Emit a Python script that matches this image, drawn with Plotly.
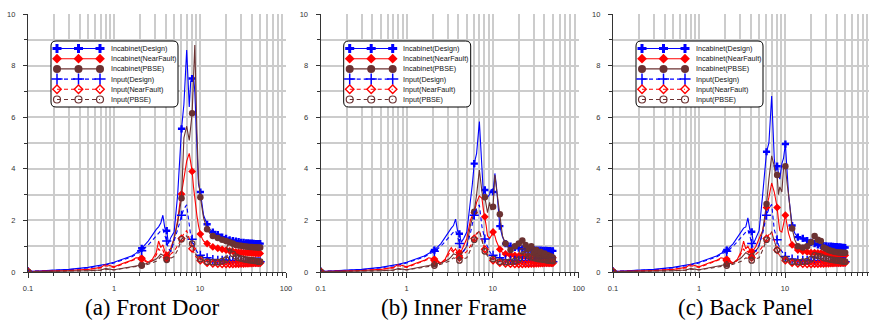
import plotly.graph_objects as go

# ---------------- data ----------------
freq = [0.1, 0.2, 0.3, 0.5, 0.7, 0.8, 1.0, 1.3, 1.6, 1.8,
        2.1, 2.5, 2.8, 3.1, 3.3, 3.5, 3.7, 3.9, 4.1, 4.3,
        4.6, 5.0, 5.5, 5.8, 6.1, 6.5, 7.0, 7.5, 7.8, 8.1,
        8.4, 8.7, 9.2, 9.6, 10.1, 10.6, 11.0, 12.1, 13.0, 14.1,
        16.1, 18.1, 20.1, 22.1, 24.1, 26.1, 28.1, 30.1, 32.1, 34.1,
        36.1, 38.1, 40.1, 42.1, 44.1, 46.1, 48.1, 50.1]

series_names = ["Incabinet(Design)", "Incabinet(NearFault)", "Incabinet(PBSE)",
                "Input(Design)", "Input(NearFault)", "Input(PBSE)"]
panel_titles = ["(a) Front Door", "(b) Inner Frame", "(c) Back Panel"]
x_tick_vals = [0.1, 1, 10, 100]
x_tick_text = ["0.1", "1", "10", "100"]

# (a) Front Door
front_incab_design = [0.02, 0.06, 0.10, 0.18, 0.25, 0.30, 0.38, 0.50, 0.62, 0.72,
                      0.92, 1.20, 1.45, 1.65, 1.75, 1.90, 2.20, 1.70, 1.60, 1.10,
                      1.35, 1.55, 3.00, 4.50, 5.55, 6.50, 8.60, 6.40, 7.40, 7.50,
                      7.60, 7.00, 4.50, 3.40, 3.10, 2.60, 2.20, 1.85, 1.65, 1.55,
                      1.45, 1.35, 1.30, 1.25, 1.22, 1.20, 1.18, 1.15, 1.15, 1.13,
                      1.13, 1.12, 1.12, 1.11, 1.10, 1.10, 1.10, 1.10]
front_incab_nearfault = [0.02, 0.04, 0.06, 0.10, 0.18, 0.30, 0.20, 0.35, 0.45, 0.55,
                         0.54, 0.38, 0.50, 0.75, 1.20, 0.95, 1.05, 0.80, 0.65, 0.75,
                         0.95, 1.30, 2.00, 2.60, 3.02, 3.60, 4.30, 4.60, 4.20, 3.90,
                         3.30, 2.80, 2.20, 1.80, 1.47, 1.30, 1.20, 1.10, 1.02, 0.97,
                         0.92, 0.88, 0.85, 0.82, 0.80, 0.78, 0.77, 0.76, 0.75, 0.75,
                         0.74, 0.74, 0.73, 0.73, 0.72, 0.72, 0.72, 0.72]
front_incab_pbse = [0.01, 0.02, 0.03, 0.05, 0.08, 0.13, 0.09, 0.15, 0.20, 0.25,
                    0.27, 0.35, 0.42, 0.50, 0.60, 0.70, 0.65, 0.55, 0.50, 0.65,
                    0.85, 1.30, 1.90, 2.40, 2.86, 5.20, 5.65, 5.10, 5.80, 6.15,
                    7.50, 8.80, 5.50, 3.60, 2.90, 2.40, 2.10, 1.66, 1.50, 1.40,
                    1.32, 1.25, 1.20, 1.15, 1.10, 1.05, 1.03, 1.02, 1.00, 0.99,
                    0.98, 0.97, 0.97, 0.96, 0.96, 0.95, 0.95, 0.95]
front_input_design = [0.02, 0.05, 0.09, 0.16, 0.23, 0.27, 0.35, 0.47, 0.58, 0.68,
                      0.82, 1.05, 1.25, 1.40, 1.50, 1.60, 1.65, 1.45, 1.20, 0.90,
                      0.80, 1.20, 1.60, 1.90, 2.20, 2.45, 2.60, 1.70, 1.40, 1.27,
                      1.10, 0.95, 0.80, 0.70, 0.65, 0.60, 0.58, 0.55, 0.50, 0.48,
                      0.45, 0.45, 0.46, 0.45, 0.44, 0.43, 0.42, 0.42, 0.41, 0.41,
                      0.40, 0.40, 0.40, 0.40, 0.40, 0.40, 0.40, 0.40]
front_input_nearfault = [0.02, 0.04, 0.06, 0.10, 0.16, 0.24, 0.18, 0.32, 0.42, 0.50,
                         0.50, 0.35, 0.45, 0.65, 0.90, 0.80, 0.85, 0.65, 0.55, 0.60,
                         0.70, 0.80, 1.00, 1.15, 1.30, 1.50, 1.60, 1.30, 1.05, 0.90,
                         0.75, 0.65, 0.55, 0.50, 0.45, 0.40, 0.38, 0.35, 0.33, 0.32,
                         0.31, 0.30, 0.30, 0.30, 0.30, 0.31, 0.31, 0.32, 0.32, 0.33,
                         0.33, 0.34, 0.34, 0.35, 0.35, 0.35, 0.35, 0.35]
front_input_pbse = [0.01, 0.02, 0.03, 0.05, 0.07, 0.11, 0.08, 0.13, 0.18, 0.22,
                    0.25, 0.30, 0.36, 0.42, 0.50, 0.60, 0.55, 0.50, 0.47, 0.50,
                    0.55, 0.60, 0.85, 1.05, 1.27, 1.35, 1.40, 1.25, 1.15, 1.10,
                    0.90, 0.75, 0.62, 0.55, 0.50, 0.46, 0.43, 0.40, 0.39, 0.38,
                    0.38, 0.42, 0.48, 0.95, 0.70, 0.60, 0.55, 0.52, 0.50, 0.48,
                    0.47, 0.46, 0.45, 0.44, 0.43, 0.42, 0.40, 0.40]

# (b) Inner Frame
inner_incab_design = [0.02, 0.06, 0.10, 0.18, 0.25, 0.30, 0.38, 0.50, 0.62, 0.72,
                      0.85, 1.10, 1.35, 1.60, 1.70, 1.80, 2.05, 1.60, 1.48, 1.15,
                      1.30, 1.55, 2.60, 3.40, 4.20, 4.60, 5.83, 3.90, 3.00, 3.18,
                      2.95, 2.90, 3.00, 3.20, 3.10, 3.82, 3.40, 1.78, 1.35, 1.10,
                      1.00, 0.95, 0.92, 0.90, 0.88, 0.87, 0.86, 0.86, 0.85, 0.85,
                      0.85, 0.84, 0.84, 0.84, 0.83, 0.83, 0.82, 0.82]
inner_incab_nearfault = [0.02, 0.04, 0.06, 0.10, 0.18, 0.30, 0.20, 0.35, 0.45, 0.55,
                         0.50, 0.35, 0.50, 0.80, 0.95, 0.80, 0.90, 0.75, 0.75, 0.80,
                         1.00, 1.30, 2.00, 2.20, 2.30, 2.70, 2.95, 2.85, 2.40, 2.14,
                         1.80, 1.40, 1.30, 1.40, 1.55, 1.40, 1.20, 0.88, 0.75, 0.70,
                         0.66, 0.64, 0.62, 0.60, 0.60, 0.59, 0.58, 0.58, 0.58, 0.57,
                         0.57, 0.57, 0.56, 0.56, 0.56, 0.55, 0.55, 0.55]
inner_incab_pbse = [0.01, 0.02, 0.03, 0.05, 0.08, 0.13, 0.09, 0.15, 0.20, 0.25,
                    0.30, 0.35, 0.42, 0.50, 0.60, 0.70, 0.68, 0.62, 0.60, 0.70,
                    0.85, 1.00, 1.80, 2.10, 2.34, 3.00, 3.95, 3.10, 2.80, 2.90,
                    2.60, 2.30, 2.70, 2.40, 2.53, 3.76, 3.30, 2.24, 1.40, 1.10,
                    0.85, 1.00, 1.10, 1.22, 1.05, 0.90, 1.00, 0.75, 0.85, 0.60,
                    0.78, 0.55, 0.72, 0.58, 0.65, 0.55, 0.60, 0.55]
inner_input_design = [0.02, 0.05, 0.09, 0.16, 0.23, 0.27, 0.35, 0.47, 0.58, 0.68,
                      0.80, 1.00, 1.20, 1.35, 1.45, 1.55, 1.60, 1.40, 1.10, 0.90,
                      0.80, 1.00, 1.50, 1.85, 2.20, 2.45, 2.60, 1.75, 1.45, 1.28,
                      1.10, 0.95, 0.80, 0.70, 0.65, 0.60, 0.58, 0.55, 0.50, 0.47,
                      0.45, 0.45, 0.45, 0.44, 0.43, 0.42, 0.42, 0.41, 0.41, 0.40,
                      0.40, 0.40, 0.40, 0.40, 0.40, 0.40, 0.40, 0.40]
inner_input_nearfault = [0.02, 0.04, 0.06, 0.10, 0.16, 0.24, 0.18, 0.32, 0.42, 0.50,
                         0.45, 0.33, 0.45, 0.70, 0.85, 0.75, 0.80, 0.65, 0.55, 0.60,
                         0.70, 0.80, 1.00, 1.15, 1.30, 1.50, 1.60, 1.25, 1.00, 0.88,
                         0.75, 0.65, 0.55, 0.50, 0.45, 0.40, 0.38, 0.35, 0.33, 0.32,
                         0.31, 0.30, 0.30, 0.30, 0.31, 0.31, 0.32, 0.32, 0.33, 0.33,
                         0.34, 0.34, 0.35, 0.35, 0.35, 0.35, 0.35, 0.35]
inner_input_pbse = [0.01, 0.02, 0.03, 0.05, 0.07, 0.11, 0.08, 0.13, 0.18, 0.22,
                    0.25, 0.30, 0.36, 0.42, 0.48, 0.55, 0.52, 0.48, 0.45, 0.48,
                    0.52, 0.55, 0.85, 1.05, 1.25, 1.45, 1.60, 1.20, 0.95, 0.80,
                    0.70, 0.62, 0.55, 0.52, 0.50, 0.46, 0.43, 0.40, 0.39, 0.38,
                    0.40, 0.42, 0.48, 0.80, 0.70, 0.62, 0.58, 0.55, 0.52, 0.50,
                    0.50, 0.48, 0.48, 0.46, 0.45, 0.44, 0.44, 0.43]

# (c) Back Panel
back_incab_design = [0.02, 0.06, 0.10, 0.18, 0.25, 0.30, 0.38, 0.50, 0.62, 0.72,
                     0.85, 1.10, 1.35, 1.55, 1.70, 1.75, 2.10, 1.65, 1.56, 1.10,
                     1.35, 1.60, 3.00, 3.90, 4.66, 5.00, 6.82, 4.40, 3.90, 4.10,
                     3.80, 3.60, 4.20, 4.40, 4.96, 3.80, 3.00, 1.80, 1.50, 1.35,
                     1.30, 1.22, 1.15, 1.10, 1.05, 1.03, 1.02, 1.01, 1.00, 1.00,
                     0.99, 0.98, 0.98, 0.97, 0.97, 0.96, 0.96, 0.95]
back_incab_nearfault = [0.02, 0.04, 0.06, 0.10, 0.18, 0.30, 0.20, 0.35, 0.45, 0.55,
                        0.50, 0.35, 0.50, 0.80, 1.20, 0.90, 1.00, 0.85, 0.80, 0.85,
                        1.00, 1.30, 1.60, 2.00, 2.50, 2.90, 3.45, 3.10, 2.80, 2.50,
                        2.00, 1.60, 1.55, 1.90, 2.20, 1.80, 1.50, 1.05, 0.92, 0.85,
                        0.80, 0.78, 0.75, 0.75, 0.74, 0.73, 0.72, 0.71, 0.70, 0.70,
                        0.69, 0.68, 0.68, 0.67, 0.67, 0.66, 0.66, 0.65]
back_incab_pbse = [0.01, 0.02, 0.03, 0.05, 0.08, 0.13, 0.09, 0.15, 0.20, 0.25,
                   0.30, 0.35, 0.45, 0.55, 0.65, 0.75, 0.70, 0.65, 0.60, 0.70,
                   0.85, 1.00, 1.60, 2.10, 2.64, 3.60, 4.50, 4.10, 3.70, 3.76,
                   3.00, 3.30, 3.10, 4.00, 4.10, 3.40, 3.00, 1.69, 1.25, 1.00,
                   0.95, 1.00, 1.15, 1.40, 1.25, 1.20, 0.95, 0.90, 0.85, 0.82,
                   0.80, 0.78, 0.77, 0.76, 0.76, 0.75, 0.75, 0.75]
back_input_design = [0.02, 0.05, 0.09, 0.16, 0.23, 0.27, 0.35, 0.47, 0.58, 0.68,
                     0.80, 1.00, 1.20, 1.35, 1.45, 1.55, 1.62, 1.40, 1.10, 0.90,
                     0.80, 1.05, 1.50, 1.85, 2.20, 2.45, 2.62, 1.65, 1.40, 1.25,
                     1.05, 0.92, 0.78, 0.68, 0.60, 0.56, 0.54, 0.50, 0.48, 0.46,
                     0.45, 0.45, 0.45, 0.44, 0.43, 0.42, 0.42, 0.41, 0.41, 0.40,
                     0.40, 0.40, 0.40, 0.40, 0.40, 0.40, 0.40, 0.40]
back_input_nearfault = [0.02, 0.04, 0.06, 0.10, 0.16, 0.24, 0.18, 0.32, 0.42, 0.50,
                        0.45, 0.33, 0.45, 0.70, 0.90, 0.75, 0.80, 0.65, 0.55, 0.60,
                        0.70, 0.80, 1.00, 1.15, 1.30, 1.45, 1.55, 1.20, 0.98, 0.85,
                        0.72, 0.62, 0.55, 0.50, 0.45, 0.40, 0.38, 0.35, 0.33, 0.32,
                        0.31, 0.30, 0.30, 0.31, 0.31, 0.32, 0.32, 0.33, 0.33, 0.34,
                        0.34, 0.35, 0.35, 0.35, 0.35, 0.36, 0.36, 0.36]
back_input_pbse = [0.01, 0.02, 0.03, 0.05, 0.07, 0.11, 0.08, 0.13, 0.18, 0.22,
                   0.25, 0.30, 0.36, 0.42, 0.48, 0.55, 0.52, 0.48, 0.45, 0.48,
                   0.52, 0.55, 0.85, 1.05, 1.25, 1.40, 1.55, 1.20, 1.00, 0.85,
                   0.72, 0.62, 0.55, 0.52, 0.50, 0.46, 0.43, 0.40, 0.39, 0.38,
                   0.40, 0.42, 0.50, 0.65, 0.62, 0.60, 0.55, 0.52, 0.50, 0.48,
                   0.47, 0.46, 0.45, 0.44, 0.43, 0.42, 0.41, 0.40]

panels = [
    [front_incab_design, front_incab_nearfault, front_incab_pbse,
     front_input_design, front_input_nearfault, front_input_pbse],
    [inner_incab_design, inner_incab_nearfault, inner_incab_pbse,
     inner_input_design, inner_input_nearfault, inner_input_pbse],
    [back_incab_design, back_incab_nearfault, back_incab_pbse,
     back_input_design, back_input_nearfault, back_input_pbse],
]

# ---------------- styles / layout ----------------
W, H = 869, 321
BLUE, RED, BROWN = "#0000ff", "#ff0000", "#6b3232"
DASH = "4px,3px"
styles = [
    dict(color=BLUE, dash="solid", symbol="cross", size=6, mlw=0),
    dict(color=RED, dash="solid", symbol="diamond", size=6, mlw=0),
    dict(color=BROWN, dash="solid", symbol="circle", size=6.5, mlw=0),
    dict(color=BLUE, dash=DASH, symbol="cross-thin-open", size=6.5, mlw=1.5),
    dict(color=RED, dash=DASH, symbol="diamond-open", size=5, mlw=1.4),
    dict(color=BROWN, dash=DASH, symbol="circle-open", size=5.5, mlw=1.2),
]

axis_left = [28, 320.7, 613]
axis_right = [286, 578.7, 869]
decade_px = 86.0
y_bottom_px, y_top_px = 272, 14
caption_cx = [151.5, 454, 745]
caption_cy = 307.5

GRID = "#cccccc"
AX = "#333333"
TICKFONT = dict(family="Liberation Sans, Arial, sans-serif", size=7.5, color=AX)

minor_x = [m * 10.0 ** e for e in (-1, 0, 1) for m in range(2, 10)]
is_marker = [abs((f - 0.1) / 2 - round((f - 0.1) / 2)) < 1e-9 for f in freq]
mfreq = [f for f, m in zip(freq, is_marker) if m]

fig = go.Figure()

for p in range(3):
    xa = "x" if p == 0 else f"x{p + 1}"
    ya = "y" if p == 0 else f"y{p + 1}"
    for s, vals in enumerate(panels[p]):
        st = styles[s]
        fig.add_trace(go.Scatter(
            x=freq, y=vals, mode="lines", xaxis=xa, yaxis=ya, showlegend=False,
            line=dict(color=st["color"], width=1.1, dash=st["dash"]),
            name=series_names[s], hoverinfo="skip"))
        fig.add_trace(go.Scatter(
            x=mfreq, y=[v for v, m in zip(vals, is_marker) if m], mode="markers",
            xaxis=xa, yaxis=ya, showlegend=False, name=series_names[s],
            marker=dict(symbol=st["symbol"], size=st["size"], color=st["color"],
                        line=dict(color=st["color"], width=st["mlw"]))))

    L, R = axis_left[p], axis_right[p]
    xr_max = (R - L) / decade_px - 1
    xkey = "xaxis" if p == 0 else f"xaxis{p + 1}"
    ykey = "yaxis" if p == 0 else f"yaxis{p + 1}"
    fig.update_layout(**{
        xkey: dict(
            type="log", range=[-1, xr_max], domain=[L / W, R / W], anchor=ya,
            automargin=False,
            showline=True, linecolor=AX, linewidth=1.3, mirror=False,
            ticks="outside", ticklen=5, tickwidth=1, tickcolor=AX,
            tickvals=x_tick_vals, ticktext=x_tick_text, tickfont=TICKFONT,
            ticklabelstandoff=4,
            showgrid=True, gridcolor=GRID, gridwidth=1.5, zeroline=False,
            minor=dict(tickvals=minor_x, ticks="outside", ticklen=3, tickcolor=AX,
                       showgrid=True, gridcolor=GRID, gridwidth=1.5),
        ),
        ykey: dict(
            range=[0, 10], domain=[(H - y_bottom_px) / H, (H - y_top_px) / H], anchor=xa,
            automargin=False,
            showline=True, linecolor=AX, linewidth=1.3,
            ticks="outside", ticklen=4, tickwidth=1, tickcolor=AX,
            tick0=0, dtick=2, tickfont=TICKFONT, ticklabelstandoff=6,
            showgrid=True, gridcolor=GRID, gridwidth=1.5, zeroline=False,
            minor=dict(dtick=1, ticks="outside", ticklen=3, tickcolor=AX,
                       showgrid=True, gridcolor=GRID, gridwidth=1.5),
        ),
    })

    # ---- custom legend (hidden helper axes, pixel units) ----
    lx = f"x{p + 4}"
    ly = f"y{p + 4}"
    pad = 2
    bx0, bx1 = L + 23, L + 150
    by0, by1 = 41, 107
    bw, bh = bx1 - bx0, by1 - by0
    fig.update_layout(**{
        f"xaxis{p + 4}": dict(domain=[(bx0 - pad) / W, (bx1 + pad) / W],
                              range=[-pad, bw + pad], visible=False, anchor=ly,
                              fixedrange=True, automargin=False),
        f"yaxis{p + 4}": dict(domain=[(H - by1 - pad) / H, (H - by0 + pad) / H],
                              range=[bh + pad, -pad], visible=False, anchor=lx,
                              fixedrange=True, automargin=False),
    })
    r = 5
    path = (f"M {r},0 H {bw - r} Q {bw},0 {bw},{r} V {bh - r} Q {bw},{bh} {bw - r},{bh} "
            f"H {r} Q 0,{bh} 0,{bh - r} V {r} Q 0,0 {r},0 Z")
    fig.add_shape(type="path", path=path, xref=lx, yref=ly, layer="below",
                  fillcolor="white", line=dict(color="black", width=1))
    for s in range(6):
        st = styles[s]
        ry = 7.5 + 10.2 * s
        fig.add_trace(go.Scatter(
            x=[6, 27.5, 49], y=[ry] * 3, mode="lines+markers", xaxis=lx, yaxis=ly,
            showlegend=False, hoverinfo="skip",
            line=dict(color=st["color"], width=1.1, dash=st["dash"]),
            marker=dict(symbol=st["symbol"], size=st["size"] + 1.5, color=st["color"],
                        line=dict(color=st["color"], width=st["mlw"]))))
        fig.add_annotation(x=57.5, y=ry, xref=lx, yref=ly, text=series_names[s],
                           showarrow=False, xanchor="left", yanchor="middle",
                           font=dict(family="Liberation Sans, Arial, sans-serif",
                                     size=7.2, color="#111"))

    fig.add_annotation(x=caption_cx[p] / W, y=(H - caption_cy) / H, xref="paper", yref="paper",
                       text=panel_titles[p], showarrow=False, xanchor="center",
                       yanchor="middle",
                       font=dict(family="Liberation Serif, Times New Roman, serif",
                                 size=23, color="black"))

fig.update_layout(width=W, height=H, autosize=False,
                  margin=dict(l=0, r=0, t=0, b=0, pad=0, autoexpand=False),
                  paper_bgcolor="white", plot_bgcolor="rgba(0,0,0,0)",
                  showlegend=False)

fig.write_html("out.html", config={"displayModeBar": False},
               post_script="document.body.style.margin='0px';"
                           "document.body.style.padding='0px';"
                           "document.body.style.overflow='hidden';")
